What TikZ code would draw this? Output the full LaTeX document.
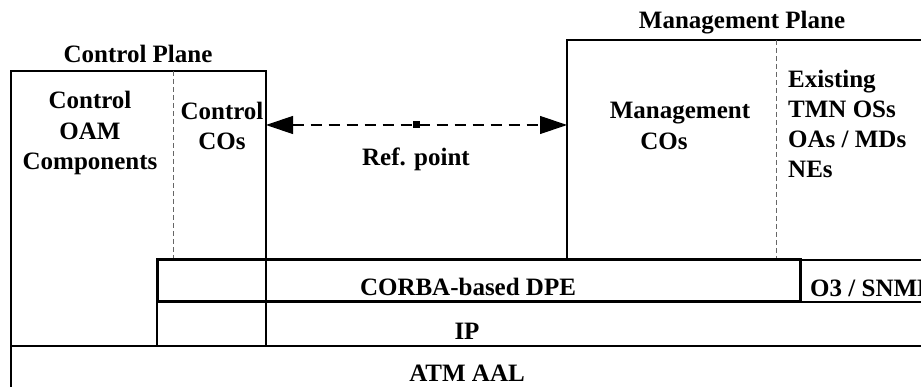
\documentclass[tikz,border=0pt]{standalone}
\usepackage{fontspec}
\setmainfont{Liberation Serif}
\usetikzlibrary{arrows.meta}
\begin{document}
\begin{tikzpicture}[x=1pt,y=-1pt,
  lbl/.style={font=\bfseries\fontsize{25}{28}\selectfont, inner sep=0pt, anchor=base},
  lbll/.style={lbl, anchor=base west},
  thinline/.style={line width=1.3pt},
  thickline/.style={line width=3pt},
  divider/.style={gray!80!black, line width=1pt, dash pattern=on 5pt off 3pt},
  refarrow/.style={line width=1.2pt, dash pattern=on 11pt off 7pt,
     {Triangle[length=27pt,width=18pt]}-{Triangle[length=27pt,width=18pt]}}
]
\useasboundingbox (0,0) rectangle (921,387);
% key coordinates
\coordinate (cpTL) at (11,71);
\coordinate (cpTR) at (266,71);
\coordinate (cpBR) at (266,346);
\coordinate (mpTL) at (567,40);
\coordinate (mpTR) at (921,40);
\coordinate (mpBL) at (567,260);
\coordinate (dpeTL) at (157,260);
\coordinate (dpeBR) at (800,302);

% Control plane box
\draw[thinline] (11,387) -- (cpTL) -- (cpTR) -- (cpBR);
\draw[divider] (173,71) -- (173,260);
% Management plane box
\draw[thinline] (mpBL) -- (mpTL) -- (mpTR);
\draw[divider] (776,40) -- (776,260);
% O3/SNMP box
\draw[thinline] (800,260) -- (921,260);
\draw[thinline] (800,302) -- (921,302);
% IP layer
\draw[thinline] (157,302) -- (157,346);
% ATM layer
\draw[line width=1.8pt] (11,346) -- (921,346);
% CORBA DPE box
\draw[thickline] (dpeTL) rectangle (dpeBR);

% reference point arrow
\coordinate (refL) at (266,125);
\coordinate (refR) at (567,125);
\coordinate (refM) at (416,125);
\draw[refarrow] (refL) -- (refR);
\node[fill=black, minimum size=7pt, inner sep=0pt] (refsq) at (refM) {};

% labels
\node[lbl] (cptitle) at (138,63) {Control Plane};
\node[lbl] (mptitle) at (742,29) {Management Plane};
\node[lbl] (oam1) at (90,109) {Control};
\node[lbl] (oam2) at (90,140) {OAM};
\node[lbl] (oam3) at (90,170) {Components};
\node[lbl] (cco1) at (222,120) {Control};
\node[lbl] (cco2) at (222,150) {COs};
\node[lbl] (mco1) at (680,119) {Management};
\node[lbl] (mco2) at (664,150) {COs};
\node[lbll] (tmn1) at (788,88) {Existing};
\node[lbll] (tmn2) at (788,118) {TMN OSs};
\node[lbll] (tmn3) at (788,148) {OAs / MDs};
\node[lbll] (tmn4) at (788,178) {NEs};
\node[lbl] (refpt) at (416,166) {Ref. point};
\node[lbl] (dpe) at (468,296) {CORBA-based DPE};
\node[lbll] (o3) at (810,297) {O3 / SNMP};
\node[lbl] (ip) at (467,340) {IP};
\node[lbl] (atm) at (467,381) {ATM AAL};
\end{tikzpicture}
\end{document}
